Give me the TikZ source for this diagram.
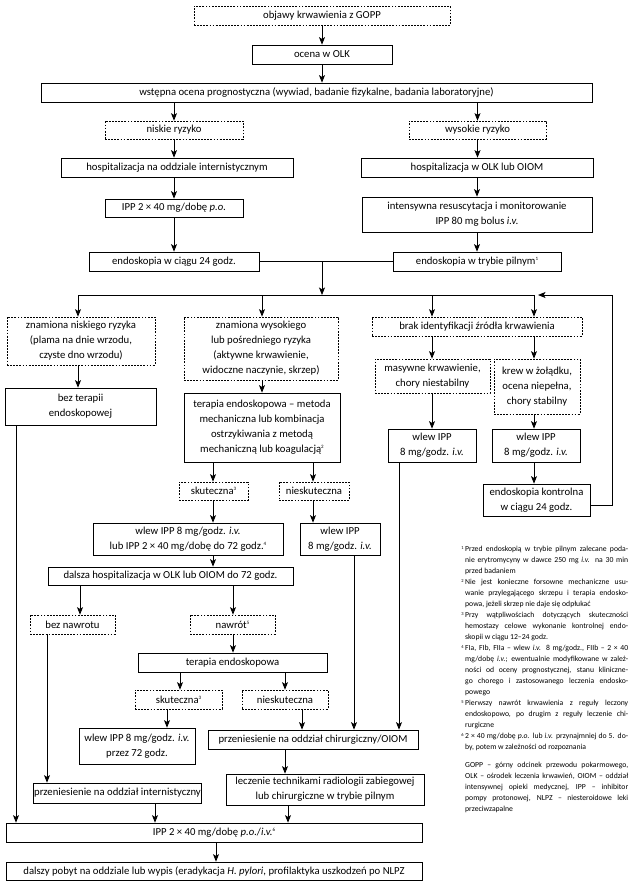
\documentclass[tikz,border=0pt]{standalone}
\usepackage{fontspec}
\setmainfont{Carlito}
\usetikzlibrary{arrows.meta}
\newcommand\mainfs{\fontsize{10.7}{15}\selectfont}
\newcommand\fnfs{\fontsize{7.7}{11}\selectfont}
\newcommand\sx[1]{\raisebox{0.8ex}{\fontsize{5}{5}\selectfont #1}}
\newcommand\fsx[1]{\raisebox{0.7ex}{\fontsize{4.5}{5}\selectfont #1}}
\newcommand\jl[1]{\hbox to 163pt{\spaceskip=0.226em plus 3em minus 0.08em\relax #1}}
\newcommand\lastl[1]{\hbox{#1}}
\newcommand\Rbox[7]{\node[#1, minimum width={(#5-#3)*1pt}, minimum height={(#6-#4)*1pt}] (#2) at ({(#3+#5)/2},{(#4+#6)/2}) {#7};}
\tikzset{
  box/.style={draw=black, line width=0.75pt, align=center, inner sep=1pt, font=\mainfs},
  dbox/.style={box, dash pattern=on 1.8pt off 1.3pt, line width=0.7pt},
  arr/.style={draw=black, line width=0.8pt, -{Stealth[length=7.5pt,width=6pt,inset=1.8pt]}},
  ln/.style={draw=black, line width=0.8pt},
}
\begin{document}
\begin{tikzpicture}[x=1pt,y=-1pt]
\fill[white] (0,0) rectangle (633,891);
\useasboundingbox (0,0) rectangle (633,891);

% top part
\Rbox{dbox}{objawy}{194}{6}{450}{25}{objawy krwawienia z GOPP}
\Rbox{box}{ocena}{252}{45}{392}{64}{ocena w OLK}
\Rbox{box}{wstepna}{41}{83}{592}{102}{wstępna ocena prognostyczna (wywiad, badanie fizykalne, badania laboratoryjne)}
\Rbox{dbox}{niskie}{105}{121}{243}{139}{niskie ryzyko}
\Rbox{dbox}{wysokie}{409}{121}{546}{139}{wysokie ryzyko}
\Rbox{box}{hospint}{61}{158}{293}{177}{hospitalizacja na oddziale internistycznym}
\Rbox{box}{hospolk}{361}{158}{593}{177}{hospitalizacja w OLK lub OIOM}
\Rbox{box}{ippo}{105}{199}{243}{217}{IPP 2 × 40 mg/dobę \textit{p.o.}}
\Rbox{box}{intens}{362}{197}{592}{232}{intensywna resuscytacja i monitorowanie\\IPP 80 mg bolus \textit{i.v.}}
\Rbox{box}{endo24}{89}{252}{259}{271}{endoskopia w ciągu 24 godz.}
\Rbox{box}{endop}{393}{252}{561}{271}{endoskopia w trybie pilnym\sx{1}}

% middle
\Rbox{dbox}{zn1}{7}{317}{155}{365}{znamiona niskiego ryzyka\\(plama na dnie wrzodu,\\czyste dno wrzodu)}
\Rbox{dbox}{zn2}{184}{317}{338}{380}{znamiona wysokiego\\lub pośredniego ryzyka\\(aktywne krwawienie,\\widoczne naczynie, skrzep)}
\Rbox{dbox}{brak}{372}{317}{582}{336}{brak identyfikacji źródła krwawienia}
\Rbox{box}{beztera}{5}{388}{156}{425}{bez terapii\\endoskopowej}
\Rbox{box}{terapia}{184}{393}{340}{462}{terapia endoskopowa – metoda\\mechaniczna lub kombinacja\\ostrzykiwania z metodą\\mechaniczną lub koagulacją\sx{2}}
\Rbox{dbox}{masyw}{375}{359}{490}{393}{masywne krwawienie,\\chory niestabilny}
\Rbox{dbox}{krew}{494}{359}{580}{414}{krew w żołądku,\\ocena niepełna,\\chory stabilny}
\Rbox{box}{wlewL}{388}{429}{476}{462}{wlew IPP\\8 mg/godz. \textit{i.v.}}
\Rbox{box}{wlewR}{492}{429}{580}{462}{wlew IPP\\8 mg/godz. \textit{i.v.}}
\Rbox{box}{kontr}{483}{484}{590}{516}{endoskopia kontrolna\\w ciągu 24 godz.}
\Rbox{dbox}{sk1}{179}{482}{248}{500}{skuteczna\sx{3}}
\Rbox{dbox}{nsk1}{279}{482}{349}{500}{nieskuteczna}
\Rbox{box}{combo}{93}{523}{283}{555}{wlew IPP 8 mg/godz. \textit{i.v.}\\lub IPP 2 × 40 mg/dobę do 72 godz.\sx{4}}
\Rbox{box}{wlewN}{300}{523}{380}{555}{wlew IPP\\8 mg/godz. \textit{i.v.}}
\Rbox{box}{dalsza}{48}{567}{293}{585}{dalsza hospitalizacja w OLK lub OIOM do 72 godz.}
\Rbox{dbox}{beznaw}{30}{615}{115}{634}{bez nawrotu}
\Rbox{dbox}{nawrot}{190}{615}{275}{634}{nawrót\sx{5}}
\Rbox{box}{ter2}{138}{653}{327}{672}{terapia endoskopowa}
\Rbox{dbox}{sk2}{135}{690}{222}{709}{skuteczna\sx{3}}
\Rbox{dbox}{nsk2}{242}{690}{328}{709}{nieskuteczna}
\Rbox{box}{wlew72}{79}{728}{195}{764}{wlew IPP 8 mg/godz. \textit{i.v.}\\przez 72 godz.}
\Rbox{box}{chir}{208}{730}{418}{749}{przeniesienie na oddział chirurgiczny/OIOM}
\Rbox{box}{lecz}{226}{774}{424}{805}{leczenie technikami radiologii zabiegowej\\lub chirurgiczne w trybie pilnym}
\Rbox{box}{przint}{37}{783}{198}{803}{przeniesienie na oddział internistyczny}
\Rbox{box}{ippb}{6}{823}{422}{842}{IPP 2 × 40 mg/dobę \textit{p.o.}/\textit{i.v.}\sx{6}}
\Rbox{box}{dalszy}{6}{862}{422}{880}{dalszy pobyt na oddziale lub wypis (eradykacja \textit{H. pylori}, profilaktyka uszkodzeń po NLPZ}

% coordinates
\coordinate (jc) at (322,295);
\coordinate (b1) at (78,295);
\coordinate (b2) at (262,295);
\coordinate (b3) at (432,295);
\coordinate (b4) at (534,295);
\coordinate (rt) at (612,295);
\coordinate (re) at (538,295);
\foreach \xx in {16,47,80,155,167,180,213,216,233,285,288,302,313,354,399}
  \coordinate (x\xx) at (\xx,0);

% top connectors
\draw[arr] (objawy.south) -- (ocena.north);
\draw[arr] (ocena.south) -- (ocena.south |- wstepna.north);
\draw[arr] (wstepna.south -| niskie.north) -- (niskie.north);
\draw[arr] (wstepna.south -| wysokie.north) -- (wysokie.north);
\draw[arr] (niskie.south) -- (niskie.south |- hospint.north);
\draw[arr] (wysokie.south) -- (wysokie.south |- hospolk.north);
\draw[arr] (hospint.south -| ippo.north) -- (ippo.north);
\draw[arr] (hospolk.south -| intens.north) -- (intens.north);
\draw[arr] (ippo.south) -- (ippo.south |- endo24.north);
\draw[arr] (intens.south) -- (intens.south |- endop.north);
\draw[ln] (endo24.east) -- (endop.west);
\draw[arr] (endo24.east -| jc) -- (jc);
\draw[ln] (b1) -- (b4);
\draw[arr] (b1) -- (b1 |- zn1.north);
\draw[arr] (b2) -- (b2 |- zn2.north);
\draw[arr] (b3) -- (b3 |- brak.north);
\draw[arr] (b4) -- (b4 |- brak.north);

% middle connectors
\draw[arr] (zn1.south -| b1) -- (beztera.north -| b1);
\draw[arr] (zn2.south -| b2) -- (terapia.north -| b2);
\draw[arr] (brak.south -| b3) -- (masyw.north -| b3);
\draw[arr] (brak.south -| b4) -- (krew.north -| b4);
\draw[arr] (masyw.south -| b3) -- (wlewL.north -| b3);
\draw[arr] (krew.south -| b4) -- (wlewR.north -| b4);
\draw[arr] (wlewR.south -| b4) -- (kontr.north -| b4);
\draw[arr] ([yshift=-5pt]kontr.east) -| (rt) -- (re);
\draw[arr] (terapia.south -| x213) -- (sk1.north -| x213);
\draw[arr] (terapia.south -| x313) -- (nsk1.north -| x313);
\draw[arr] (sk1.south -| x213) -- (combo.north -| x213);
\draw[arr] (nsk1.south -| x313) -- (wlewN.north -| x313);
\draw[arr] (combo.south -| x213) -- (dalsza.north -| x213);
\draw[arr] (dalsza.south -| x80) -- (beznaw.north -| x80);
\draw[arr] (dalsza.south -| x233) -- (nawrot.north -| x233);
\draw[arr] (nawrot.south -| x233) -- (ter2.north -| x233);
\draw[arr] (ter2.south -| x180) -- (sk2.north -| x180);
\draw[arr] (ter2.south -| x285) -- (nsk2.north -| x285);
\draw[arr] (sk2.south -| x167) -- (wlew72.north -| x167);
\draw[arr] (nsk2.south -| x302) -- (chir.north -| x302);
\draw[arr] (wlewN.south -| x354) -- (chir.north -| x354);
\draw[arr] (wlewL.south -| x399) -- (chir.north -| x399);
\draw[arr] (chir.south -| x285) -- (lecz.north -| x285);
\draw[arr] (beztera.south -| x16) -- (ippb.north -| x16);
\draw[arr] (beznaw.south -| x47) -- (przint.north -| x47);
\draw[arr] (przint.south -| x155) -- (ippb.north -| x155);
\draw[arr] (lecz.south -| x288) -- (ippb.north -| x288);
\draw[arr] (ippb.south -| x216) -- (dalszy.north -| x216);

% footnotes
\node[anchor=north west, inner sep=0pt, font=\fnfs] (fn) at (465,546) {\vbox{\baselineskip=11pt
\jl{\llap{\fsx{1}\hspace{1.5pt}}Przed endoskopią w trybie pilnym zalecane poda-}
\jl{nie erytromycyny w dawce 250 mg \textit{i.v.} na 30 min}
\lastl{przed badaniem}
\jl{\llap{\fsx{2}\hspace{1.5pt}}Nie jest konieczne forsowne mechaniczne usu-}
\jl{wanie przylegającego skrzepu i terapia endosko-}
\lastl{powa, jeżeli skrzep nie daje się odpłukać}
\jl{\llap{\fsx{3}\hspace{1.5pt}}Przy wątpliwościach dotyczących skuteczności}
\jl{hemostazy celowe wykonanie kontrolnej endo-}
\lastl{skopii w ciągu 12–24 godz.}
\jl{\llap{\fsx{4}\hspace{1.5pt}}FIa, FIb, FIIa – wlew \textit{i.v.} 8 mg/godz., FIIb – 2 × 40}
\jl{mg/dobę \textit{i.v.}; ewentualnie modyfikowane w zależ-}
\jl{ności od oceny prognostycznej, stanu kliniczne-}
\jl{go chorego i zastosowanego leczenia endosko-}
\lastl{powego}
\jl{\llap{\fsx{5}\hspace{1.5pt}}Pierwszy nawrót krwawienia z reguły leczony}
\jl{endoskopowo, po drugim z reguły leczenie chi-}
\lastl{rurgiczne}
\jl{\llap{\fsx{6}\hspace{1.5pt}}2 × 40 mg/dobę \textit{p.o.} lub \textit{i.v.} przynajmniej do 5. do-}
\lastl{by, potem w zależności od rozpoznania}
}};
\node[anchor=north west, inner sep=0pt, font=\fnfs] (gloss) at (465,762) {\vbox{\baselineskip=11pt
\jl{GOPP – górny odcinek przewodu pokarmowego,}
\jl{OLK – ośrodek leczenia krwawień, OIOM – oddział}
\jl{intensywnej opieki medycznej, IPP – inhibitor}
\jl{pompy protonowej, NLPZ – niesteroidowe leki}
\lastl{przeciwzapalne}
}};
\end{tikzpicture}
\end{document}
